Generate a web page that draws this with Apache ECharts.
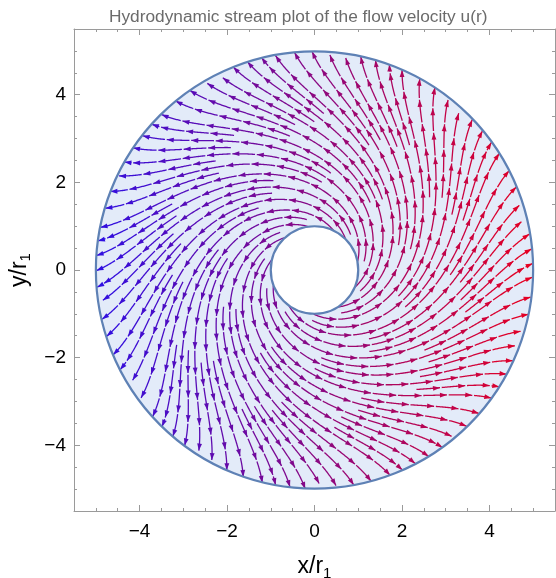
<!DOCTYPE html>
<html>
<head>
<meta charset="utf-8">
<script src="https://cdn.jsdelivr.net/npm/echarts@6/dist/echarts.min.js"></script>
<style>
  html, body { margin: 0; padding: 0; background: #fff; }
  #main { width: 556px; height: 578px; }
</style>
</head>
<body>
<div id="main"></div>
<script>
  // annulus walls, in units of r1
  var wallRadii = [1, 5]
  // flow field: radial source, swirl of the inner wall, leftover vortex
  var sourceStrength = [1.0]
  var wallSwirl = [1.8]
  var freeVortex = [0.4]
  // axes
  var axisRange = [-5.5, 5.5]
  var majorTicks = [-4, -2, 0, 2, 4]
  var minorTicks = [-5.5, -5, -4.5, -3.5, -3, -2.5, -1.5, -1, -0.5, 0.5, 1, 1.5, 2.5, 3, 3.5, 4.5, 5, 5.5]

  var R1 = wallRadii[0], R2 = wallRadii[1]
  var STEP = 0.02, DSEP = 0.28, DTEST = 0.14, SEG = 0.52, GAP = 0.035, MINLEN = 0.25

  function flowDir(x, y) {
    var r = Math.sqrt(x * x + y * y), c = x / r, s = y / r
    var ur = sourceStrength[0] / r
    var ut = wallSwirl[0] * (R2 * R2 / r - r) / (R2 * R2 - R1 * R1) + freeVortex[0] / r
    var vx = ur * c - ut * s, vy = ur * s + ut * c
    var m = Math.sqrt(vx * vx + vy * vy)
    return [vx / m, vy / m]
  }

  // evenly spaced streamlines (Jobard & Lefer)
  var cells = {}
  function cellOf(x, y) { return [Math.floor(x / DSEP), Math.floor(y / DSEP)] }
  function gridAdd(p) {
    var c = cellOf(p[0], p[1]), k = c[0] + '_' + c[1]
    ;(cells[k] || (cells[k] = [])).push(p)
  }
  function tooClose(x, y, d) {
    var c = cellOf(x, y)
    for (var i = -1; i <= 1; i++) {
      for (var j = -1; j <= 1; j++) {
        var arr = cells[(c[0] + i) + '_' + (c[1] + j)]
        if (!arr) continue
        for (var n = 0; n < arr.length; n++) {
          var dx = arr[n][0] - x, dy = arr[n][1] - y
          if (dx * dx + dy * dy < d * d) return true
        }
      }
    }
    return false
  }
  function inside(x, y) {
    var r = Math.sqrt(x * x + y * y)
    return r >= R1 && r <= R2
  }
  function traceDir(x, y, sign) {
    var pts = []
    for (var k = 0; k < 4000; k++) {
      var v = flowDir(x, y)
      var mx = x + sign * v[0] * STEP / 2, my = y + sign * v[1] * STEP / 2
      if (!inside(mx, my)) break
      var v2 = flowDir(mx, my)
      var nx = x + sign * v2[0] * STEP, ny = y + sign * v2[1] * STEP
      if (!inside(nx, ny) || tooClose(nx, ny, DTEST)) break
      pts.push([nx, ny])
      x = nx; y = ny
    }
    return pts
  }
  function traceLine(x, y) {
    var back = traceDir(x, y, -1).reverse()
    return back.concat([[x, y]], traceDir(x, y, 1))
  }

  var lines = []
  function addLine(pts) {
    lines.push(pts)
    pts.forEach(gridAdd)
  }
  addLine(traceLine(3, 0))
  for (var qi = 0; qi < lines.length; qi++) {
    var L = lines[qi]
    for (var i = 0; i < L.length; i += 2) {
      var a = L[Math.max(i - 1, 0)], b = L[Math.min(i + 1, L.length - 1)]
      var tx = b[0] - a[0], ty = b[1] - a[1], tl = Math.sqrt(tx * tx + ty * ty) || 1
      for (var sgn = -1; sgn <= 1; sgn += 2) {
        var cx = L[i][0] - sgn * ty / tl * DSEP, cy = L[i][1] + sgn * tx / tl * DSEP
        if (!inside(cx, cy) || tooClose(cx, cy, DSEP * 0.98)) continue
        var nl = traceLine(cx, cy)
        if ((nl.length - 1) * STEP >= MINLEN) addLine(nl)
      }
    }
  }

  // cut every streamline into arrowed pieces
  var segments = []
  lines.forEach(function (L) {
    var cur = [L[0]], acc = 0, gap = -1
    for (var i = 1; i < L.length; i++) {
      var d = Math.hypot(L[i][0] - L[i - 1][0], L[i][1] - L[i - 1][1])
      if (gap >= 0) {
        gap += d
        if (gap >= GAP) { gap = -1; cur = [L[i]]; acc = 0 }
        continue
      }
      cur.push(L[i]); acc += d
      if (acc >= SEG) { segments.push(cur); gap = 0 }
    }
    if (gap < 0 && acc > 0.12) segments.push(cur)
  })

  var blueEnd = [45, 15, 228], redEnd = [232, 0, 32]
  function colorAt(x) {
    var t = Math.max(0, Math.min(1, (x + R2) / (2 * R2)))
    var c = blueEnd.map(function (v, k) { return Math.round(v + (redEnd[k] - v) * t) })
    return 'rgb(' + c.join(',') + ')'
  }

  var segData = segments.map(function (s, i) {
    var m = s[Math.floor(s.length / 2)]
    return [m[0], m[1], i]
  })

  function fmt(v) { return String(v).replace('-', '\u2212') }

  var chart = echarts.init(document.getElementById('main'), null, { renderer: 'canvas' })
  var font = 'Liberation Sans, Arial, sans-serif'

  function makeAxis(pos, ticks, len, isMain, label) {
    return {
      type: 'value',
      position: pos,
      min: axisRange[0],
      max: axisRange[1],
      axisLine: { show: isMain, onZero: false, lineStyle: { color: '#9a9a9a', width: 1 } },
      axisTick: { show: true, inside: true, length: len, customValues: ticks, lineStyle: { color: '#9a9a9a' } },
      axisLabel: label ? {
        customValues: majorTicks, formatter: fmt, color: '#000', fontSize: 19, fontFamily: font, margin: label.margin
      } : { show: false },
      splitLine: { show: false }
    }
  }

  var nameStyle = {
    rich: {
      n: { fontSize: 23, color: '#000', fontFamily: font, lineHeight: 28 },
      s: { fontSize: 15, color: '#000', fontFamily: font, lineHeight: 15, verticalAlign: 'bottom' }
    }
  }
  var xMain = makeAxis('bottom', majorTicks, 6, true, { margin: 11 })
  xMain.name = '{n|x/r}{s|1}'
  xMain.nameLocation = 'middle'
  xMain.nameGap = 42
  xMain.nameTextStyle = nameStyle
  var yMain = makeAxis('left', majorTicks, 6, true, { margin: 8 })
  yMain.name = '{n|y/r}{s|1}'
  yMain.nameLocation = 'middle'
  yMain.nameGap = 40
  yMain.nameRotate = 90
  yMain.nameTextStyle = nameStyle

  chart.setOption({
    animation: false,
    backgroundColor: '#fff',
    title: {
      text: 'Hydrodynamic stream plot of the flow velocity u(r)',
      left: 104,
      top: 4,
      textStyle: { color: '#6b6b6b', fontSize: 17.3, fontWeight: 'normal', fontFamily: font }
    },
    grid: { left: 74, right: 1, top: 29, bottom: 67, outerBoundsMode: 'none' },
    xAxis: [
      xMain,
      makeAxis('bottom', minorTicks, 3, false),
      makeAxis('top', majorTicks, 6, true),
      makeAxis('top', minorTicks, 3, false)
    ],
    yAxis: [
      yMain,
      makeAxis('left', minorTicks, 3, false),
      makeAxis('right', majorTicks, 6, true),
      makeAxis('right', minorTicks, 3, false)
    ],
    series: [
      {
        // annulus fill
        type: 'custom',
        xAxisIndex: 0,
        yAxisIndex: 0,
        data: [[0, 0, R1, R2]],
        silent: true,
        z: 1,
        renderItem: function (params, api) {
          var c = api.coord([api.value(0), api.value(1)])
          return {
            type: 'ring',
            shape: { cx: c[0], cy: c[1], r: api.size([api.value(3), 0])[0], r0: api.size([api.value(2), 0])[0] },
            style: { fill: '#e3ebf9', stroke: null }
          }
        }
      },
      {
        // streamline pieces with arrowheads
        type: 'custom',
        xAxisIndex: 0,
        yAxisIndex: 0,
        data: segData,
        encode: { x: 0, y: 1 },
        silent: true,
        z: 2,
        renderItem: function (params, api) {
          var seg = segments[api.value(2)]
          var pts = seg.map(function (p) { return api.coord(p) })
          var n = pts.length
          var tip = pts[n - 1], prev = pts[Math.max(0, n - 4)]
          var dx = tip[0] - prev[0], dy = tip[1] - prev[1], dl = Math.sqrt(dx * dx + dy * dy) || 1
          var ux = dx / dl, uy = dy / dl
          var al = 7, aw = 2.4
          var bx = tip[0] - ux * al, by = tip[1] - uy * al
          var col = colorAt(api.value(0))
          return {
            type: 'group',
            children: [
              {
                type: 'polyline',
                shape: { points: pts },
                style: { stroke: col, lineWidth: 1.3, fill: null }
              },
              {
                type: 'polygon',
                shape: { points: [tip, [bx - uy * aw, by + ux * aw], [bx + uy * aw, by - ux * aw]] },
                style: { fill: col }
              }
            ]
          }
        }
      },
      {
        // wall outlines
        type: 'custom',
        xAxisIndex: 0,
        yAxisIndex: 0,
        data: [[0, 0, R1, R2]],
        silent: true,
        z: 3,
        renderItem: function (params, api) {
          var c = api.coord([api.value(0), api.value(1)])
          return {
            type: 'ring',
            shape: { cx: c[0], cy: c[1], r: api.size([api.value(3), 0])[0], r0: api.size([api.value(2), 0])[0] },
            style: { fill: null, stroke: '#5e81b5', lineWidth: 2.2 }
          }
        }
      }
    ]
  })
</script>
</body>
</html>
